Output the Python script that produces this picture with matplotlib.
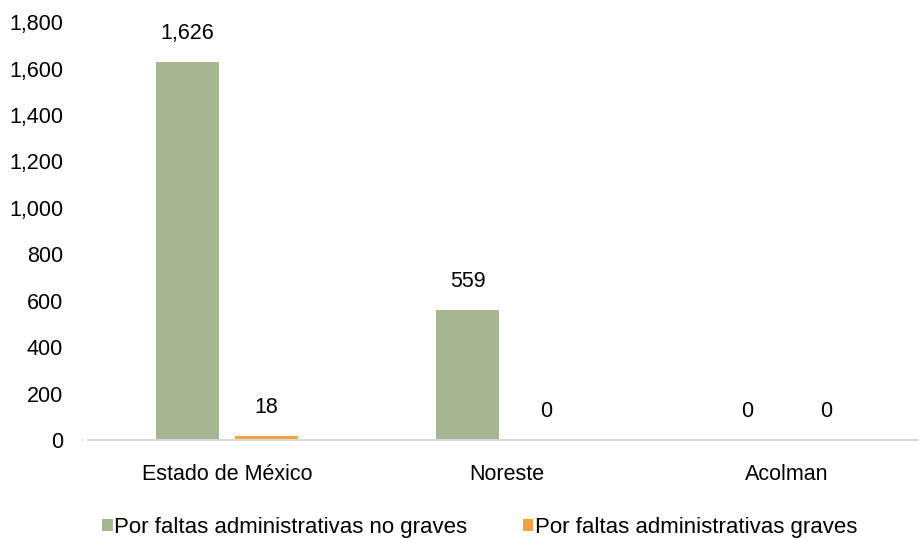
import numpy as np
import matplotlib.pyplot as plt

# data
categories = ['Estado de México', 'Noreste', 'Acolman']
no_graves = [1626, 559, 0]
graves = [18, 0, 0]
series_names = ['Por faltas administrativas no graves', 'Por faltas administrativas graves']

plt.rcParams['font.family'] = ['Liberation Sans', 'DejaVu Sans']

fig = plt.figure(figsize=(9.19, 5.39), dpi=100)
ax = fig.add_axes([0.0958, 0.1837, 0.9032, 0.7753])

x = np.arange(len(categories))
w = 0.225
off = 0.141
green = '#A6B592'
orange = '#F2A444'

b1 = ax.bar(x - off, no_graves, w, color=green, label=series_names[0])
b2 = ax.bar(x + off, graves, w, color=orange, label=series_names[1])

# value labels above bars
for rects, vals in ((b1, no_graves), (b2, graves)):
    for r, v in zip(rects, vals):
        ax.annotate(f'{v:,}', (r.get_x() + r.get_width() / 2, r.get_height()),
                    xytext=(0, 13), textcoords='offset points',
                    ha='center', va='bottom', fontsize=15.5)

ax.set_ylim(0, 1800)
ax.set_yticks(range(0, 1801, 200))
ax.set_yticklabels([f'{t:,}' for t in range(0, 1801, 200)])
ax.set_xlim(-0.496, 2.468)
ax.set_xticks(x)
ax.set_xticklabels(categories)
ax.tick_params(axis='both', length=0, labelsize=15.5)
ax.tick_params(axis='x', pad=17)
ax.tick_params(axis='y', pad=18)

for s in ('top', 'right', 'left'):
    ax.spines[s].set_visible(False)
ax.spines['bottom'].set_color('#D9D9D9')
ax.spines['bottom'].set_linewidth(1.5)

leg = fig.legend(loc='center', bbox_to_anchor=(0.522, 0.022), ncol=2, frameon=False,
                 fontsize=16, handlelength=0.47, handleheight=0.47, handletextpad=0.06,
                 columnspacing=2.5, borderpad=0, borderaxespad=0)

fig.savefig('out.png', dpi=100)
